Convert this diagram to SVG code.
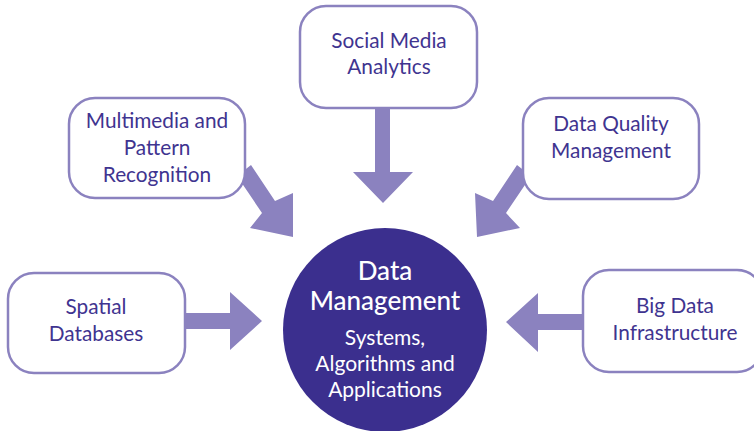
<svg xmlns="http://www.w3.org/2000/svg" width="754" height="431" viewBox="0 0 754 431">
<style>
.box{fill:#fff;stroke:#8b82bf;stroke-width:2.5}
.t{font-family:Lato,"Open Sans",sans-serif;font-size:20.8px;fill:#3f3490;text-anchor:middle}
.arr{fill:#8b82bf}
.ct{font-family:Lato,"Open Sans",sans-serif;fill:#fff;text-anchor:middle}
</style>
<rect width="754" height="431" fill="#fff"/>
<g id="connectors">
<polygon class="arr" points="375,106 390,106 390,172 413,172 383,203 353,172 375,172"/>
<polygon class="arr" points="184,313 230,313 230,292 262,321 230,350 230,329 184,329"/>
<polygon class="arr" points="584,314 538,314 538,293 506,322 538,352 538,330 584,330"/>
<polygon class="arr" points="237,176 251,165 275,201 293,193 293,237 250,228 262,213"/>
<polygon class="arr" points="531,176 517,165 493,201 475,193 477,237 520,228 506,213"/>
</g>
<g id="center">
<circle cx="385" cy="330" r="102" fill="#3b2f8e"/>
<text class="ct" x="385" y="280" font-size="26" font-weight="500">Data</text>
<text class="ct" x="385" y="310" font-size="26" font-weight="500">Management</text>
<text class="ct" x="385" y="345" font-size="21">Systems,</text>
<text class="ct" x="385" y="371" font-size="21">Algorithms and</text>
<text class="ct" x="385" y="397" font-size="21">Applications</text>
</g>
<g id="social">
<rect class="box" x="300" y="6" width="177" height="102" rx="26"/>
<text class="t" x="389" y="48">Social Media</text>
<text class="t" x="389" y="74">Analytics</text>
</g>
<g id="multimedia">
<rect class="box" x="69" y="98" width="176" height="100" rx="26"/>
<text class="t" x="157" y="128">Multimedia and</text>
<text class="t" x="157" y="155">Pattern</text>
<text class="t" x="157" y="182">Recognition</text>
</g>
<g id="quality">
<rect class="box" x="523" y="98" width="176" height="101" rx="26"/>
<text class="t" x="611" y="131">Data Quality</text>
<text class="t" x="611" y="158">Management</text>
</g>
<g id="spatial">
<rect class="box" x="8" y="273" width="177" height="100" rx="26"/>
<text class="t" x="96" y="314">Spatial</text>
<text class="t" x="96" y="341">Databases</text>
</g>
<g id="bigdata">
<rect class="box" x="583" y="270" width="180" height="102" rx="26"/>
<text class="t" x="675" y="313">Big Data</text>
<text class="t" x="675" y="340">Infrastructure</text>
</g>
</svg>
